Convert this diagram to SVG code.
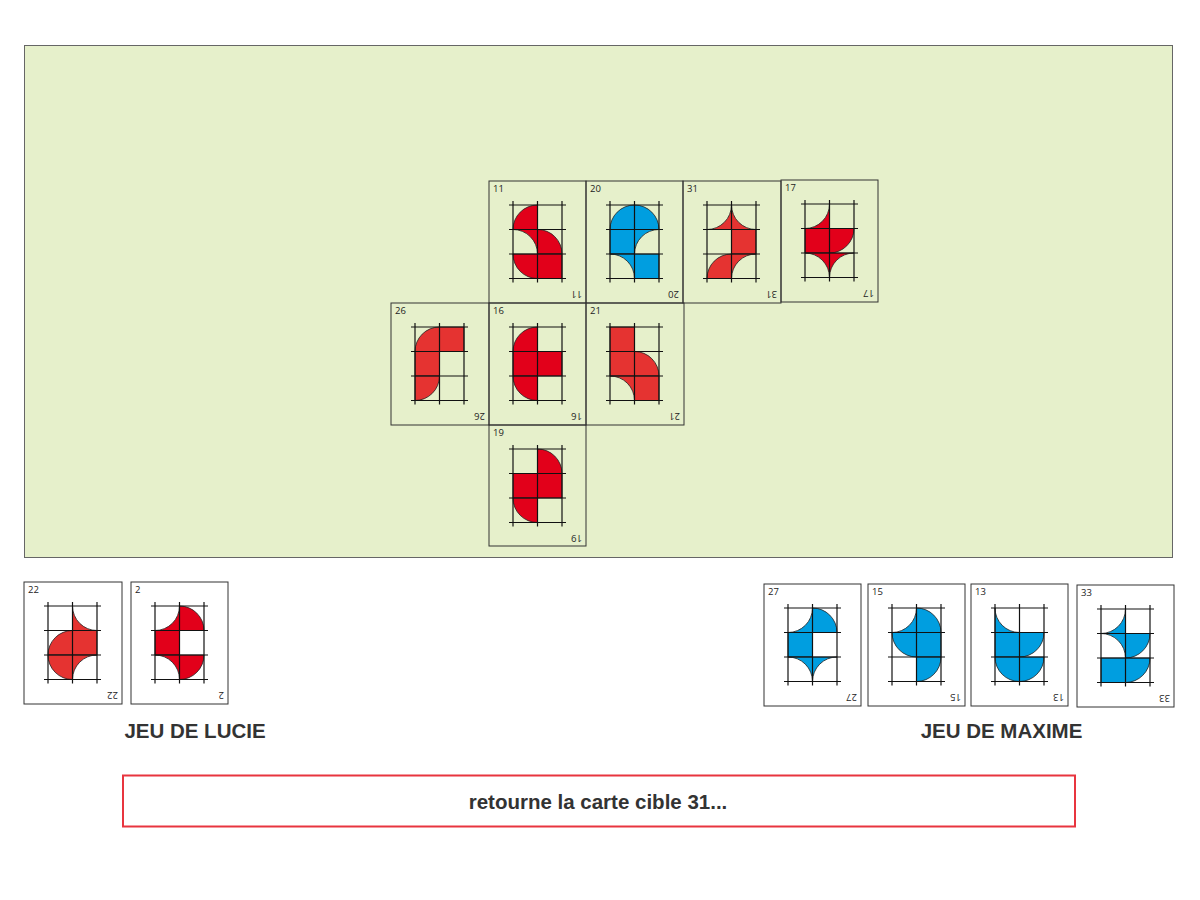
<svg xmlns="http://www.w3.org/2000/svg" xmlns:xlink="http://www.w3.org/1999/xlink" width="1200" height="900" viewBox="0 0 1200 900">
<style>
.card{stroke:#333;stroke-width:1}
.tgt{fill:none}
.wht{fill:#fff}
.num{font-family:"Open Sans","Noto Sans","Liberation Sans",sans-serif;font-size:9.5px;fill:#222}
.r1{fill:#e2001a}
.r2{fill:#e53331}
.bl{fill:#009ee0}
.sh{stroke:#222;stroke-width:0.8}
.grid line{stroke:#111;stroke-width:1.2}
.lbl{font-family:"Liberation Sans",Arial,sans-serif;font-weight:bold;font-size:20.5px;fill:#333;text-anchor:middle}
.msg{font-family:"Liberation Sans",Arial,sans-serif;font-weight:bold;font-size:20.5px;fill:#333;text-anchor:middle}
</style>
<defs>
<path id="F" d="M0,0H24.5V24.5H0Z"/>
<path id="QTL" d="M0,0H24.5A24.5,24.5 0 0 1 0,24.5Z"/>
<path id="QTR" d="M24.5,0V24.5A24.5,24.5 0 0 1 0,0Z"/>
<path id="QBR" d="M24.5,24.5H0A24.5,24.5 0 0 1 24.5,0Z"/>
<path id="QBL" d="M0,24.5V0A24.5,24.5 0 0 1 24.5,24.5Z"/>
<path id="CTL" d="M24.5,0V24.5H0A24.5,24.5 0 0 0 24.5,0Z"/>
<path id="CTR" d="M0,0V24.5H24.5A24.5,24.5 0 0 1 0,0Z"/>
<path id="CBR" d="M24.5,0H0V24.5A24.5,24.5 0 0 1 24.5,0Z"/>
<path id="CBL" d="M0,0H24.5V24.5A24.5,24.5 0 0 0 0,0Z"/>
<g id="grid" class="grid">
<line x1="0" y1="-4" x2="0" y2="77.5"/><line x1="24.5" y1="-4" x2="24.5" y2="77.5"/><line x1="49" y1="-4" x2="49" y2="77.5"/>
<line x1="-4" y1="0" x2="53" y2="0"/><line x1="-4" y1="24.5" x2="53" y2="24.5"/><line x1="-4" y1="49" x2="53" y2="49"/><line x1="-4" y1="73.5" x2="53" y2="73.5"/>
</g>
</defs>
<rect width="1200" height="900" fill="#fff"/>
<rect id="table" x="24.5" y="45.5" width="1148" height="512" fill="#e6f0cb" stroke="#666" stroke-width="1"/>

<g id="card-11" transform="translate(489,181)">
<rect class="card tgt" width="97" height="122"/>
<text class="num" x="4" y="11">11</text><text class="num" transform="translate(93,110) rotate(180)">11</text>
<g class="sh r1" transform="translate(24,24)">
<use href="#QBR" x="0" y="0"/><use href="#CBL" x="0" y="24.5"/><use href="#QBL" x="24.5" y="24.5"/><use href="#QTR" x="0" y="49"/><use href="#F" x="24.5" y="49"/>
<use href="#grid"/></g></g>

<g id="card-20" transform="translate(586,181)">
<rect class="card tgt" width="97" height="122"/>
<text class="num" x="4" y="11">20</text><text class="num" transform="translate(93,110) rotate(180)">20</text>
<g class="sh bl" transform="translate(24,24)">
<use href="#QBR" x="0" y="0"/><use href="#QBL" x="24.5" y="0"/><use href="#F" x="0" y="24.5"/><use href="#CBR" x="24.5" y="24.5"/><use href="#CBL" x="0" y="49"/><use href="#F" x="24.5" y="49"/>
<use href="#grid"/></g></g>

<g id="card-31" transform="translate(683,181)">
<rect class="card tgt" width="98" height="122" stroke-width="1.6"/>
<text class="num" x="4" y="11">31</text><text class="num" transform="translate(94,110) rotate(180)">31</text>
<g class="sh r2" transform="translate(24,24)">
<use href="#CTL" x="0" y="0"/><use href="#CTR" x="24.5" y="0"/><use href="#F" x="24.5" y="24.5"/><use href="#QBR" x="0" y="49"/><use href="#CBR" x="24.5" y="49"/>
<use href="#grid"/></g></g>

<g id="card-17" transform="translate(781,180)">
<rect class="card tgt" width="97" height="122"/>
<text class="num" x="4" y="11">17</text><text class="num" transform="translate(93,110) rotate(180)">17</text>
<g class="sh r1" transform="translate(24,24)">
<use href="#CTL" x="0" y="0"/><use href="#F" x="0" y="24.5"/><use href="#QTL" x="24.5" y="24.5"/><use href="#CBL" x="0" y="49"/><use href="#CBR" x="24.5" y="49"/>
<use href="#grid"/></g></g>

<g id="card-26" transform="translate(391,303)">
<rect class="card tgt" width="98" height="122"/>
<text class="num" x="4" y="11">26</text><text class="num" transform="translate(94,110) rotate(180)">26</text>
<g class="sh r2" transform="translate(24,24)">
<use href="#QBR" x="0" y="0"/><use href="#F" x="24.5" y="0"/><use href="#F" x="0" y="24.5"/><use href="#QTL" x="0" y="49"/>
<use href="#grid"/></g></g>

<g id="card-16" transform="translate(489,303)">
<rect class="card tgt" width="97" height="122"/>
<text class="num" x="4" y="11">16</text><text class="num" transform="translate(93,110) rotate(180)">16</text>
<g class="sh r1" transform="translate(24,24)">
<use href="#QBR" x="0" y="0"/><use href="#F" x="0" y="24.5"/><use href="#F" x="24.5" y="24.5"/><use href="#QTR" x="0" y="49"/>
<use href="#grid"/></g></g>

<g id="card-21" transform="translate(586,303)">
<rect class="card tgt" width="98" height="122"/>
<text class="num" x="4" y="11">21</text><text class="num" transform="translate(94,110) rotate(180)">21</text>
<g class="sh r2" transform="translate(24,24)">
<use href="#F" x="0" y="0"/><use href="#F" x="0" y="24.5"/><use href="#QBL" x="24.5" y="24.5"/><use href="#CBL" x="0" y="49"/><use href="#F" x="24.5" y="49"/>
<use href="#grid"/></g></g>

<g id="card-19" transform="translate(489,425)">
<rect class="card tgt" width="97" height="121"/>
<text class="num" x="4" y="11">19</text><text class="num" transform="translate(93,110) rotate(180)">19</text>
<g class="sh r1" transform="translate(24,24)">
<use href="#QBL" x="24.5" y="0"/><use href="#F" x="0" y="24.5"/><use href="#F" x="24.5" y="24.5"/><use href="#QTR" x="0" y="49"/>
<use href="#grid"/></g></g>

<g id="card-22" transform="translate(24,582)">
<rect class="card wht" width="98" height="122"/>
<text class="num" x="4" y="11">22</text><text class="num" transform="translate(94,110) rotate(180)">22</text>
<g class="sh r2" transform="translate(24,24)">
<use href="#CTR" x="24.5" y="0"/><use href="#QBR" x="0" y="24.5"/><use href="#F" x="24.5" y="24.5"/><use href="#QTR" x="0" y="49"/><use href="#CBR" x="24.5" y="49"/>
<use href="#grid"/></g></g>

<g id="card-2" transform="translate(131,582)">
<rect class="card wht" width="97" height="122"/>
<text class="num" x="4" y="11">2</text><text class="num" transform="translate(93,110) rotate(180)">2</text>
<g class="sh r1" transform="translate(24,24)">
<use href="#CTL" x="0" y="0"/><use href="#QBL" x="24.5" y="0"/><use href="#F" x="0" y="24.5"/><use href="#CBL" x="0" y="49"/><use href="#QTL" x="24.5" y="49"/>
<use href="#grid"/></g></g>

<g id="card-27" transform="translate(764,584)">
<rect class="card wht" width="97" height="122"/>
<text class="num" x="4" y="11">27</text><text class="num" transform="translate(93,110) rotate(180)">27</text>
<g class="sh bl" transform="translate(24,24)">
<use href="#CTL" x="0" y="0"/><use href="#QBL" x="24.5" y="0"/><use href="#F" x="0" y="24.5"/><use href="#CBL" x="0" y="49"/><use href="#CBR" x="24.5" y="49"/>
<use href="#grid"/></g></g>

<g id="card-15" transform="translate(868,584)">
<rect class="card wht" width="97" height="122"/>
<text class="num" x="4" y="11">15</text><text class="num" transform="translate(93,110) rotate(180)">15</text>
<g class="sh bl" transform="translate(24,24)">
<use href="#CTL" x="0" y="0"/><use href="#QBL" x="24.5" y="0"/><use href="#QTR" x="0" y="24.5"/><use href="#F" x="24.5" y="24.5"/><use href="#QTL" x="24.5" y="49"/>
<use href="#grid"/></g></g>

<g id="card-13" transform="translate(971,584)">
<rect class="card wht" width="97" height="122"/>
<text class="num" x="4" y="11">13</text><text class="num" transform="translate(93,110) rotate(180)">13</text>
<g class="sh bl" transform="translate(24,24)">
<use href="#CTR" x="0" y="0"/><use href="#F" x="0" y="24.5"/><use href="#QTL" x="24.5" y="24.5"/><use href="#QTR" x="0" y="49"/><use href="#QTL" x="24.5" y="49"/>
<use href="#grid"/></g></g>

<g id="card-33" transform="translate(1077,585)">
<rect class="card wht" width="97" height="122"/>
<text class="num" x="4" y="11">33</text><text class="num" transform="translate(93,110) rotate(180)">33</text>
<g class="sh bl" transform="translate(24,24)">
<use href="#CTL" x="0" y="0"/><use href="#CBL" x="0" y="24.5"/><use href="#QTL" x="24.5" y="24.5"/><use href="#F" x="0" y="49"/><use href="#QTL" x="24.5" y="49"/>
<use href="#grid"/></g></g>

<g id="connectors"/>

<text class="lbl" x="195" y="738">JEU DE LUCIE</text>
<text class="lbl" x="1001.5" y="738">JEU DE MAXIME</text>

<g id="message">
<rect x="123" y="775.5" width="952" height="51" fill="#fff" stroke="#e8353f" stroke-width="2"/>
<text class="msg" x="598" y="809">retourne la carte cible 31...</text>
</g>
</svg>
